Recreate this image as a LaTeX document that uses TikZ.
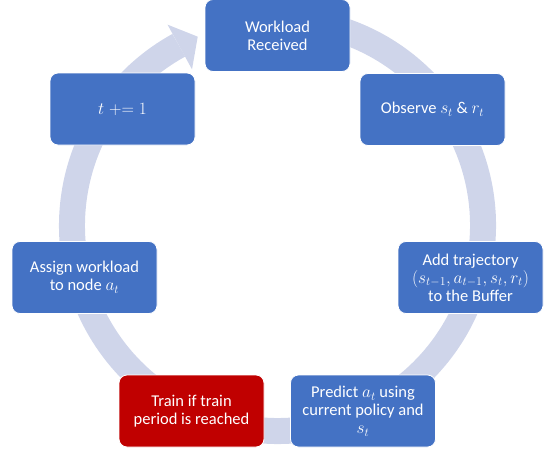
\documentclass[tikz,border=0pt]{standalone}
\usepackage{fontspec}
\setmainfont{Carlito}
\usetikzlibrary{calc}
\definecolor{boxblue}{HTML}{4472C4}
\definecolor{boxred}{HTML}{C00000}
\definecolor{ringcol}{HTML}{CFD5EA}
\tikzset{
  cyclebox/.style={draw=white, line width=0.8pt, fill=boxblue, rounded corners=8pt,
    minimum width=145pt, minimum height=72pt, text=white, align=center,
    font=\fontsize{16.5}{18}\selectfont, inner sep=2pt},
  redbox/.style={cyclebox, fill=boxred},
  ring/.style={draw=ringcol, line width=26pt}
}
\begin{document}
\begin{tikzpicture}[x=1pt,y=1pt]
\useasboundingbox (0,0) rectangle (548,451);
\coordinate (c) at (277.5,225.5);
% ring
\draw[ring] (c) ++(80:205.5) arc[start angle=80, end angle=-241.3, radius=205.5];
\fill[ringcol] ($(c)+(118.7:178)$) -- ($(c)+(118.7:229)$) -- ($(c)+(112.9:205)$) -- cycle;
% boxes
\node[cyclebox] (wr) at (277.5,415.5) {Workload\\Received};
\node[cyclebox] (ob) at (432.5,341.5) {Observe $s_t$ \& $r_t$};
\node[cyclebox] (ad) at (470.5,173.5) {Add trajectory\\$(s_{t-1},a_{t-1},s_t,r_t)$\\to the Buffer};
\node[cyclebox] (pr) at (363,40) {Predict $a_t$ using\\current policy and\\$s_t$};
\node[redbox] (tr) at (191.5,40) {Train if train\\period is reached};
\node[cyclebox] (as) at (84.5,173.5) {Assign workload\\to node $a_t$};
\node[cyclebox] (tp) at (122.5,342) {$t \mathrel{{+}{=}} 1$};
\end{tikzpicture}
\end{document}
